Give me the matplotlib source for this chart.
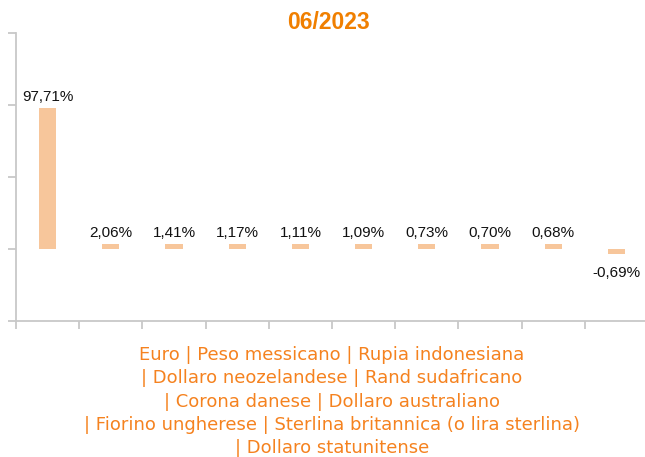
import matplotlib
matplotlib.use("Agg")
import matplotlib.pyplot as plt
from matplotlib.ticker import FixedLocator, NullFormatter

title = "06/2023"
categories = ["Euro", "Peso messicano", "Rupia indonesiana", "Dollaro neozelandese",
              "Rand sudafricano", "Corona danese", "Dollaro australiano",
              "Fiorino ungherese", "Sterlina britannica (o lira sterlina)",
              "Dollaro statunitense"]
values = [97.71, 2.06, 1.41, 1.17, 1.11, 1.09, 0.73, 0.70, 0.68, -0.69]
label_lines = ["Euro | Peso messicano | Rupia indonesiana",
               "| Dollaro neozelandese | Rand sudafricano",
               "| Corona danese | Dollaro australiano",
               "| Fiorino ungherese | Sterlina britannica (o lira sterlina)",
               "| Dollaro statunitense"]

W, H = 645, 457
fig = plt.figure(figsize=(W / 100, H / 100), dpi=100)
ax = fig.add_axes([16 / W, 136 / H, 632 / W, 288 / H])

# the original chart draws tiny bars with a minimum visible height
MIN_H = 3.3
shown = [(1 if v >= 0 else -1) * max(abs(v), MIN_H) for v in values]

x = list(range(len(values)))
ax.bar(x, shown, width=0.27, color="#F7C69B", zorder=2)
ax.set_xlim(-0.5, len(values) - 0.5)
ax.set_ylim(-50, 150)

for xi, v, h in zip(x, values, shown):
    s = f"{v:.2f}%".replace(".", ",")
    if v >= 0:
        ax.annotate(s, (xi, h), xytext=(0, 5.5), textcoords="offset points",
                    ha="center", va="baseline", fontsize=11,
                    family="Liberation Sans", color="#111111")
    else:
        ax.annotate(s, (xi, h), xytext=(0, -17), textcoords="offset points",
                    ha="center", va="baseline", fontsize=11,
                    family="Liberation Sans", color="#111111")

for side in ["top", "right"]:
    ax.spines[side].set_visible(False)
for side in ["left", "bottom"]:
    ax.spines[side].set_color("#c8c8c8")
    ax.spines[side].set_linewidth(1.3)

ax.set_yticks([-50, 0, 50, 100, 150])
ax.yaxis.set_major_formatter(NullFormatter())
ax.tick_params(axis="y", direction="out", length=5.5, width=1.3, color="#c8c8c8")
ax.xaxis.set_major_locator(FixedLocator([i - 0.5 for i in range(len(values) + 1)]))
ax.xaxis.set_major_formatter(NullFormatter())
ax.tick_params(axis="x", direction="out", length=5.5, width=1.3, color="#c8c8c8")

ax.set_xlabel("\n".join(label_lines), fontsize=13, family="DejaVu Sans",
              color="#F5821F", linespacing=1.38, labelpad=9)

fig.text(328 / W, 1 - 22.5 / H, title, ha="center", va="center", fontsize=16.5,
         fontweight="bold", family="Liberation Sans", color="#F07F00")

fig.savefig("out.png", dpi=100)
